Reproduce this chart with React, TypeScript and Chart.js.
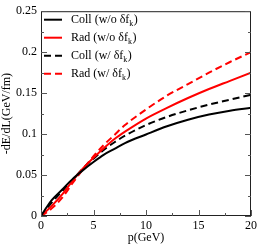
import React, { useEffect, useRef } from "react";
import { Chart, registerables } from "chart.js";

Chart.register(...registerables);

const pValues = [0, 0.5, 1, 2, 3, 4, 5, 6, 7, 8, 10, 12, 14, 16, 18, 20];
const collWithout = [0, 0.010, 0.019, 0.032, 0.045, 0.056, 0.066, 0.075, 0.082, 0.089, 0.0995, 0.1095, 0.1175, 0.1238, 0.1285, 0.132];
const radWithout = [0, 0.006, 0.012, 0.026, 0.043, 0.058, 0.071, 0.083, 0.094, 0.103, 0.119, 0.132, 0.144, 0.155, 0.165, 0.175];
const collWith = [0, 0.008, 0.016, 0.030, 0.044, 0.058, 0.070, 0.081, 0.090, 0.098, 0.111, 0.121, 0.129, 0.136, 0.142, 0.148];
const radWith = [0, 0.004, 0.009, 0.022, 0.040, 0.057, 0.073, 0.087, 0.099, 0.111, 0.130, 0.147, 0.161, 0.175, 0.188, 0.200];

const seriesLabels = ["Coll (w/o δf", "Rad (w/o δf", "Coll (w/ δf", "Rad (w/ δf"];
const xTicks = [0, 5, 10, 15, 20];
const yTicks = [0, 0.05, 0.1, 0.15, 0.2, 0.25];
const xTitle = "p(GeV)";
const yTitle = "-dE/dL(GeV/fm)";

const FONT = "'Liberation Serif', 'Times New Roman', serif";

const colors = ["#000000", "#ff0000", "#000000", "#ff0000"];
const dashes = [[], [], [7, 4], [7, 4]];

const framePlugin = {
  id: "frameTicks",
  afterDraw(chart: any) {
    const { ctx, chartArea } = chart;
    const { left, right, top, bottom } = chartArea;
    const xs = chart.scales.x;
    const ys = chart.scales.y;
    ctx.save();
    ctx.strokeStyle = "#222";
    ctx.lineWidth = 1;
    ctx.strokeRect(left + 0.5, top + 0.5, right - left - 1, bottom - top - 1);
    ctx.strokeStyle = "#555";
    const major = 6;
    const minor = 3;
    const xMinor: number[] = [];
    for (let i = 0; i < xTicks.length - 1; i++) xMinor.push((xTicks[i] + xTicks[i + 1]) / 2);
    const yMinor: number[] = [];
    for (let i = 0; i < yTicks.length - 1; i++) yMinor.push((yTicks[i] + yTicks[i + 1]) / 2);
    ctx.beginPath();
    xTicks.forEach((v) => {
      const px = Math.round(xs.getPixelForValue(v)) + 0.5;
      ctx.moveTo(px, bottom);
      ctx.lineTo(px, bottom - major);
    });
    xMinor.forEach((v) => {
      const px = Math.round(xs.getPixelForValue(v)) + 0.5;
      ctx.moveTo(px, bottom);
      ctx.lineTo(px, bottom - minor);
    });
    yTicks.forEach((v) => {
      const py = Math.round(ys.getPixelForValue(v)) + 0.5;
      ctx.moveTo(left, py);
      ctx.lineTo(left + major, py);
      ctx.moveTo(right, py);
      ctx.lineTo(right - major, py);
    });
    yMinor.forEach((v) => {
      const py = Math.round(ys.getPixelForValue(v)) + 0.5;
      ctx.moveTo(left, py);
      ctx.lineTo(left + minor, py);
      ctx.moveTo(right, py);
      ctx.lineTo(right - minor, py);
    });
    ctx.stroke();

    // legend
    seriesLabels.forEach((label, i) => {
      const cy = top + 8 + i * 18;
      ctx.strokeStyle = colors[i];
      ctx.lineWidth = 2;
      ctx.setLineDash(dashes[i]);
      ctx.beginPath();
      ctx.moveTo(left + 3, cy + 0.5);
      ctx.lineTo(left + 21, cy + 0.5);
      ctx.stroke();
      ctx.setLineDash([]);
      ctx.fillStyle = "#000";
      ctx.textBaseline = "alphabetic";
      ctx.font = `12px ${FONT}`;
      const tx = left + 30;
      const ty = cy + 4;
      ctx.fillText(label, tx, ty);
      const w = ctx.measureText(label).width;
      ctx.font = `8px ${FONT}`;
      ctx.fillText("k", tx + w, ty + 3);
      const wk = ctx.measureText("k").width;
      ctx.font = `12px ${FONT}`;
      ctx.fillText(")", tx + w + wk + 0.5, ty);
    });
    ctx.restore();
  },
};

function mk(data: number[]) {
  return pValues.map((p, i) => ({ x: p, y: data[i] }));
}

export default function App() {
  const ref = useRef<HTMLCanvasElement | null>(null);
  useEffect(() => {
    document.body.style.margin = "0";
    const canvas = ref.current!;
    const all = [collWithout, radWithout, collWith, radWith];
    const chart = new Chart(canvas, {
      type: "line",
      data: {
        datasets: all.map((d, i) => ({
          label: seriesLabels[i],
          data: mk(d),
          borderColor: colors[i],
          borderWidth: 2,
          borderDash: dashes[i],
          pointRadius: 0,
          fill: false,
          cubicInterpolationMode: "monotone" as const,
        })),
      },
      options: {
        responsive: false,
        animation: false,
        layout: { padding: { left: 0, right: 7, top: 7, bottom: 0 } },
        plugins: { legend: { display: false }, tooltip: { enabled: false } },
        scales: {
          x: {
            type: "linear",
            min: 0,
            max: 20,
            afterBuildTicks: (s: any) => {
              s.ticks = xTicks.map((v) => ({ value: v }));
            },
            afterFit: (s: any) => {
              s.height = 29;
            },
            grid: { display: false, drawTicks: false },
            border: { display: false },
            ticks: {
              padding: 3,
              color: "#000",
              font: { family: FONT, size: 12 },
              maxRotation: 0,
            },
            title: {
              display: true,
              text: xTitle,
              color: "#000",
              font: { family: FONT, size: 12 },
              padding: { top: -2, bottom: 0 },
            },
          },
          y: {
            type: "linear",
            min: 0,
            max: 0.25,
            afterBuildTicks: (s: any) => {
              s.ticks = yTicks.map((v) => ({ value: v }));
            },
            afterFit: (s: any) => {
              s.width = 41;
            },
            grid: { display: false, drawTicks: false },
            border: { display: false },
            ticks: {
              padding: 4,
              color: "#000",
              font: { family: FONT, size: 12 },
              callback: (v: any) => String(Number(Number(v).toFixed(2))),
            },
            title: {
              display: true,
              text: yTitle,
              color: "#000",
              font: { family: FONT, size: 12 },
              padding: { top: 0, bottom: 0 },
            },
          },
        },
      },
      plugins: [framePlugin],
    });
    return () => chart.destroy();
  }, []);
  return (
    <div style={{ width: 260, height: 245 }}>
      <canvas ref={ref} width={260} height={245} style={{ display: "block" }} />
    </div>
  );
}
